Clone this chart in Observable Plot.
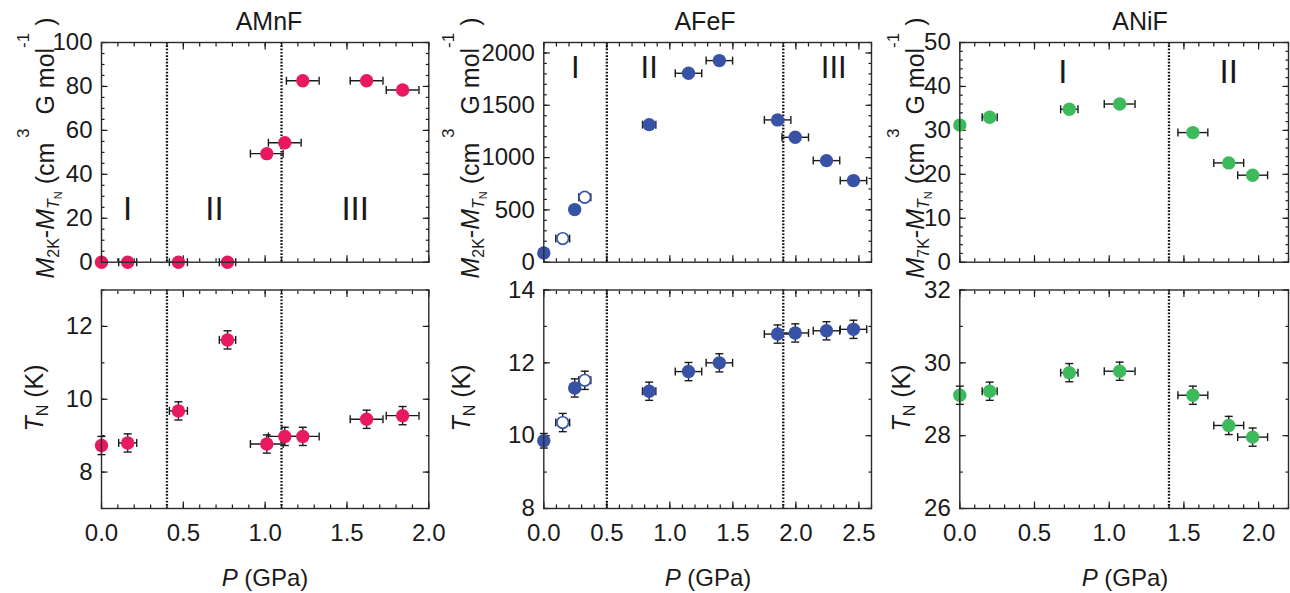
<!DOCTYPE html>
<html><head><meta charset="utf-8">
<script src="https://cdn.jsdelivr.net/npm/d3@7"></script>
<script src="https://cdn.jsdelivr.net/npm/@observablehq/plot@0.6"></script>
<style>
html,body{margin:0;background:#fff;}
#root{position:relative;width:1290px;height:593px;overflow:hidden;font-family:"Liberation Sans",Arial,sans-serif;background:#fff;}
</style></head>
<body><div id="root"></div>
<script>
// ---------------- data ----------------
// AMnF
const mnP      = [0.00, 0.16, 0.47, 0.77, 1.01, 1.12, 1.23, 1.62, 1.84];
const mnPerr   = [0, 0.055, 0.055, 0.05, 0.10, 0.10, 0.10, 0.10, 0.10];
const mnM      = [0, 0, 0, 0, 49.4, 54.4, 82.6, 82.6, 78.4];
const mnTN     = [8.73, 8.80, 9.68, 11.63, 8.77, 8.98, 8.98, 9.45, 9.55];
const mnTNerr  = [0.25, 0.25, 0.25, 0.25, 0.25, 0.25, 0.25, 0.25, 0.25];
const mnBounds = [0.40, 1.10];
const mnRegionP = [0.16, 0.69, 1.55];
const mnRegionText = ["I", "II", "III"];
const mnRegionY = 24;

// AFeF
const feP      = [0.00, 0.15, 0.245, 0.325, 0.836, 1.148, 1.393, 1.855, 1.995, 2.243, 2.457];
const fePerr   = [0, 0.055, 0, 0.048, 0.053, 0.105, 0.105, 0.105, 0.105, 0.105, 0.105];
const feOpen   = [false, true, false, true, false, false, false, false, false, false, false];
const feM      = [89, 226, 503, 621, 1315, 1806, 1927, 1360, 1194, 971, 780];
const feTN     = [9.86, 10.36, 11.31, 11.52, 11.22, 11.76, 12.00, 12.79, 12.82, 12.88, 12.92];
const feTNerr  = [0.20, 0.25, 0.25, 0.25, 0.25, 0.25, 0.25, 0.25, 0.25, 0.25, 0.25];
const feBounds = [0.50, 1.90];
const feRegionP = [0.25, 0.836, 2.30];
const feRegionText = ["I", "II", "III"];
const feRegionY = 1860;

// ANiF
const niP      = [0.00, 0.20, 0.733, 1.07, 1.56, 1.80, 1.96];
const niPerr   = [0, 0.05, 0.058, 0.103, 0.10, 0.10, 0.10];
const niM      = [31.2, 33.0, 34.8, 36.0, 29.5, 22.6, 19.8];
const niTN     = [29.11, 29.22, 29.73, 29.77, 29.11, 28.28, 27.96];
const niTNerr  = [0.25, 0.25, 0.25, 0.25, 0.25, 0.25, 0.25];
const niBounds = [1.40];
const niRegionP = [0.69, 1.80];
const niRegionText = ["I", "II"];
const niRegionY = 43.2;

// tick labels
const mnXTicks = [0, 0.5, 1.0, 1.5, 2.0];
const feXTicks = [0, 0.5, 1.0, 1.5, 2.0, 2.5];
const niXTicks = [0, 0.5, 1.0, 1.5, 2.0];
const mnMTicks = [0, 20, 40, 60, 80, 100];
const feMTicks = [0, 500, 1000, 1500, 2000];
const niMTicks = [0, 10, 20, 30, 40, 50];
const mnTTicks = [8, 10, 12];
const feTTicks = [8, 10, 12, 14];
const niTTicks = [26, 28, 30, 32];

const titles = ["AMnF", "AFeF", "ANiF"];
const colors = {mn: "#e8195e", fe: "#3853a6", ni: "#3dba5b"};
const INK = "#1a1a1a";
const TICK_FS = 24, LABEL_FS = 25, XLABEL_FS = 24, TITLE_FS = 25, REGION_FS = 33;

// ---------------- helpers ----------------
const rows = (P, Y, Pe, Ye, open) =>
  P.map((p, i) => ({x: p, y: Y[i], xe: Pe ? Pe[i] : 0, ye: Ye ? Ye[i] : 0, open: open ? open[i] : false}));

const vCap = {draw(c, s) { const h = Math.sqrt(s / Math.PI); c.moveTo(0, -h); c.lineTo(0, h); }};
const hCap = {draw(c, s) { const h = Math.sqrt(s / Math.PI); c.moveTo(-h, 0); c.lineTo(h, 0); }};

function dataMarks(d, color) {
  const xe = d.filter(r => r.xe > 0), ye = d.filter(r => r.ye > 0);
  return [
    Plot.ruleY(xe, {y: "y", x1: r => r.x - r.xe, x2: r => r.x + r.xe, stroke: INK, strokeWidth: 1.4}),
    Plot.dot(xe.flatMap(r => [{x: r.x - r.xe, y: r.y}, {x: r.x + r.xe, y: r.y}]),
      {x: "x", y: "y", r: 4, symbol: vCap, stroke: INK, strokeWidth: 1.4, fill: "none"}),
    Plot.ruleX(ye, {x: "x", y1: r => r.y - r.ye, y2: r => r.y + r.ye, stroke: INK, strokeWidth: 1.4}),
    Plot.dot(ye.flatMap(r => [{x: r.x, y: r.y - r.ye}, {x: r.x, y: r.y + r.ye}]),
      {x: "x", y: "y", r: 4, symbol: hCap, stroke: INK, strokeWidth: 1.4, fill: "none"}),
    Plot.dot(d.filter(r => !r.open), {x: "x", y: "y", r: 6.7, fill: color, stroke: "none"}),
    Plot.dot(d.filter(r => r.open), {x: "x", y: "y", r: 5.8, fill: "white", stroke: color, strokeWidth: 1.7})
  ];
}

const minors = (a, b, s) => d3.range(Math.round(a / s), Math.round(b / s) + 1).map(k => +(k * s).toFixed(6));

function tickAxes(xMajor, xMinor, yMajor, yMinor) {
  const o = {fill: "none", stroke: INK, strokeWidth: 1.2, label: null};
  return [
    Plot.axisX(xMinor, {...o, anchor: "bottom", tickSize: -3.5}),
    Plot.axisX(xMinor, {...o, anchor: "top", tickSize: -3.5}),
    Plot.axisX(xMajor, {...o, anchor: "bottom", tickSize: -6.5}),
    Plot.axisX(xMajor, {...o, anchor: "top", tickSize: -6.5}),
    Plot.axisY(yMinor, {...o, anchor: "left", tickSize: -3.5}),
    Plot.axisY(yMinor, {...o, anchor: "right", tickSize: -3.5}),
    Plot.axisY(yMajor, {...o, anchor: "left", tickSize: -6.5}),
    Plot.axisY(yMajor, {...o, anchor: "right", tickSize: -6.5})
  ];
}

const root = document.getElementById("root");

function panel(cfg) {
  const marks = [
    Plot.ruleX(cfg.bounds, {stroke: "#111", strokeWidth: 2.3, strokeDasharray: "1.7,1.6"}),
    ...tickAxes(cfg.xMajor, cfg.xMinor, cfg.yMajor, cfg.yMinor),
    Plot.axisY(cfg.yMajor, {anchor: "left", tickSize: 0, tickPadding: 9, stroke: "none", fill: INK,
      fontSize: TICK_FS, tickFormat: d => String(d), label: null}),
    ...(cfg.xLabels ? [Plot.axisX(cfg.xMajor, {anchor: "bottom", tickSize: 0, tickPadding: 15, stroke: "none",
      fill: INK, fontSize: TICK_FS, tickFormat: d3.format(".1f"), label: null})] : []),
    ...(cfg.regions ? [Plot.text(cfg.regions, {x: "x", y: "y", text: "t", fontSize: cfg.regionSize || REGION_FS, fill: INK})] : []),
    ...dataMarks(cfg.data, cfg.color),
    Plot.frame({stroke: "#2a2a2a", strokeWidth: 1.4})
  ];
  const svg = Plot.plot({
    width: cfg.width, height: cfg.height,
    marginLeft: cfg.ml, marginRight: cfg.mr, marginTop: cfg.mt, marginBottom: cfg.mb,
    x: {domain: cfg.xDomain},
    y: {domain: cfg.yDomain},
    style: {fontFamily: '"Liberation Sans", Arial, sans-serif', fontSize: TICK_FS + "px", color: INK, background: "transparent", overflow: "visible"},
    marks
  });
  svg.style.position = "absolute";
  svg.style.left = cfg.left + "px";
  svg.style.top = cfg.top + "px";
  root.append(svg);
  return d3.select(svg);
}

function yLabelM(svg, x, cy, sub) {
  const t = svg.append("text").attr("transform", `translate(${x},${cy}) rotate(-90)`)
    .attr("text-anchor", "middle").attr("font-size", LABEL_FS).attr("fill", INK);
  t.append("tspan").attr("font-style", "italic").text("M");
  t.append("tspan").attr("font-size", 16).attr("dy", 5).text(sub);
  t.append("tspan").attr("dy", -5).text("-");
  t.append("tspan").attr("font-style", "italic").text("M");
  t.append("tspan").attr("font-size", 16).attr("font-style", "italic").attr("dy", 5).text("T");
  t.append("tspan").attr("font-size", 11).attr("dy", 3).text("N");
  t.append("tspan").attr("dy", -8).text(" (cm");
  t.append("tspan").attr("font-size", 17).attr("dy", -25).text(" 3");
  t.append("tspan").attr("dy", 25).text("  G mol");
  t.append("tspan").attr("font-size", 17).attr("dy", -25).text("-1");
  t.append("tspan").attr("dy", 25).text(" )");
}

function yLabelT(svg, x, cy) {
  const t = svg.append("text").attr("transform", `translate(${x},${cy}) rotate(-90)`)
    .attr("text-anchor", "middle").attr("font-size", LABEL_FS).attr("fill", INK);
  t.append("tspan").attr("font-style", "italic").text("T");
  t.append("tspan").attr("font-size", 16).attr("dy", 5).text("N");
  t.append("tspan").attr("dy", -5).text(" (K)");
}

function xLabel(svg, cx, y) {
  const t = svg.append("text").attr("x", cx).attr("y", y)
    .attr("text-anchor", "middle").attr("font-size", XLABEL_FS).attr("fill", INK);
  t.append("tspan").attr("font-style", "italic").text("P");
  t.append("tspan").text(" (GPa)");
}

function title(svg, cx, y, s) {
  svg.append("text").attr("x", cx).attr("y", y).attr("text-anchor", "middle")
    .attr("font-size", TITLE_FS).attr("fill", INK).text(s);
}

const regionRows = (P, T, y) => P.map((p, i) => ({x: p, y, t: T[i]}));

// ---------------- layout ----------------
const cols = [
  {left: 0,   width: 440, ml: 101,   mr: 11.7},
  {left: 440, width: 440, ml: 103.3, mr: 9},
  {left: 880, width: 410, ml: 79.3,  mr: 2}
];
const rowTop = {top: 0, height: 275, mt: 42, mb: 13.3};
const rowBot = {top: 275, height: 318, mt: 14.5, mb: 85};

const setups = [
  {key: "mn", xDomain: [0, 2.0], xMajor: mnXTicks, xMinor: minors(0, 2.0, 0.1), bounds: mnBounds,
   M: {yDomain: [0, 100], yMajor: mnMTicks, yMinor: minors(0, 100, 5), data: rows(mnP, mnM, mnPerr, null),
       regions: regionRows(mnRegionP, mnRegionText, mnRegionY)},
   T: {yDomain: [7, 13], yMajor: mnTTicks, yMinor: minors(7, 13, 1), data: rows(mnP, mnTN, mnPerr, mnTNerr)},
   sub: "2K", labM: {x: 54, cy: 148}, labT: {x: 43, cy: 398}, titleX: 269, xlabX: 265},
  {key: "fe", xDomain: [0, 2.6], xMajor: feXTicks, xMinor: minors(0, 2.6, 0.1), bounds: feBounds,
   M: {yDomain: [0, 2100], yMajor: feMTicks, yMinor: minors(0, 2100, 100), data: rows(feP, feM, fePerr, null, feOpen),
       regions: regionRows(feRegionP, feRegionText, feRegionY), regionSize: 31},
   T: {yDomain: [8, 14], yMajor: feTTicks, yMinor: minors(8, 14, 1), data: rows(feP, feTN, fePerr, feTNerr, feOpen)},
   sub: "2K", labM: {x: 39, cy: 148}, labT: {x: 30, cy: 398}, titleX: 265, xlabX: 268},
  {key: "ni", xDomain: [0, 2.2], xMajor: niXTicks, xMinor: minors(0, 2.2, 0.1), bounds: niBounds,
   M: {yDomain: [0, 50], yMajor: niMTicks, yMinor: minors(0, 50, 2), data: rows(niP, niM, niPerr, null),
       regions: regionRows(niRegionP, niRegionText, niRegionY)},
   T: {yDomain: [26, 32], yMajor: niTTicks, yMinor: minors(26, 32, 1), data: rows(niP, niTN, niPerr, niTNerr)},
   sub: "7K", labM: {x: 44, cy: 148}, labT: {x: 30, cy: 398}, titleX: 260, xlabX: 245}
];

setups.forEach((s, i) => {
  const c = cols[i];
  const base = {left: c.left, width: c.width, ml: c.ml, mr: c.mr, xDomain: s.xDomain, xMajor: s.xMajor,
    xMinor: s.xMinor, bounds: s.bounds, color: colors[s.key]};
  const svgTop = panel({...base, ...rowTop, ...s.M, xLabels: false});
  yLabelM(svgTop, s.labM.x, s.labM.cy, s.sub);
  title(svgTop, s.titleX, 30, titles[i]);
  const svgBot = panel({...base, ...rowBot, ...s.T, xLabels: true});
  yLabelT(svgBot, s.labT.x, s.labT.cy - 275);
  xLabel(svgBot, s.xlabX, 311);
});
</script>
</body></html>
